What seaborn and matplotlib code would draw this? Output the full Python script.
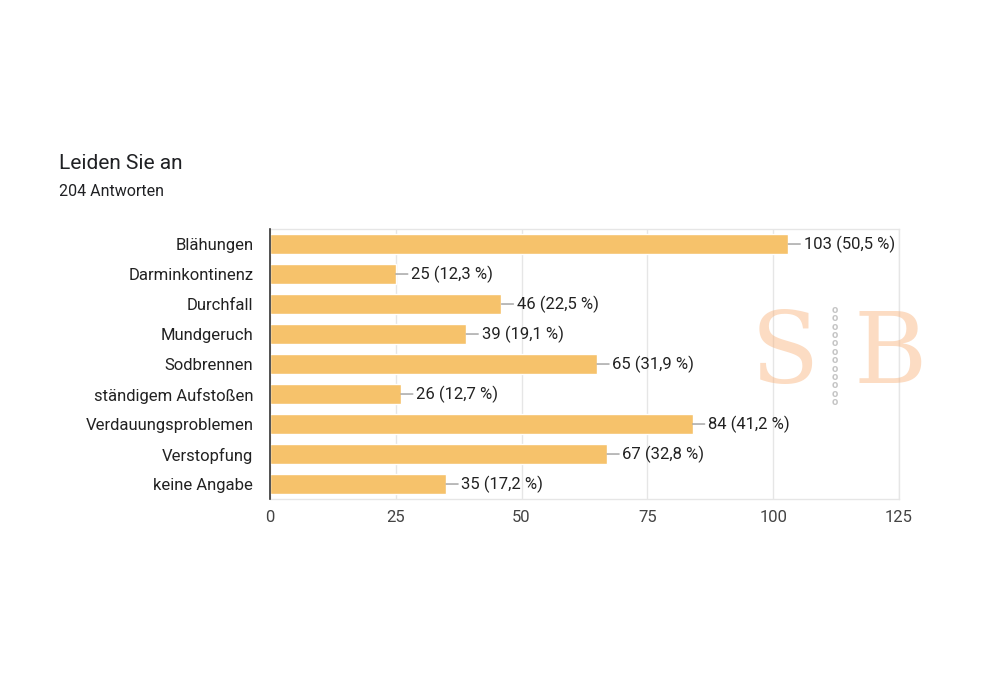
import matplotlib
matplotlib.use("Agg")
import matplotlib.pyplot as plt
import pandas as pd
import seaborn as sns

# Data
categories = ["Blähungen", "Darminkontinenz", "Durchfall", "Mundgeruch", "Sodbrennen",
              "ständigem Aufstoßen", "Verdauungsproblemen", "Verstopfung", "keine Angabe"]
counts = [103, 25, 46, 39, 65, 26, 84, 67, 35]
percents = ["50,5", "12,3", "22,5", "19,1", "31,9", "12,7", "41,2", "32,8", "17,2"]
x_ticks = [0, 25, 50, 75, 100, 125]
total = 204

df = pd.DataFrame({"Antwort": categories, "Anzahl": counts})

sns.set_theme(style="white")
plt.rcParams["font.family"] = ["Roboto", "DejaVu Sans"]

fig = plt.figure(figsize=(10.06, 6.82), dpi=100)
ax = fig.add_axes([0.2684, 0.2683, 0.6252, 0.3959])

sns.barplot(data=df, x="Anzahl", y="Antwort", color="#F6C26B", saturation=1,
            width=0.66, ax=ax, zorder=3)

ax.set_xlim(0, 125)
ax.set_xticks(x_ticks)
ax.set_xlabel("")
ax.set_ylabel("")
ax.grid(axis="x", color="#e6e6e6", lw=1, zorder=0)
ax.set_axisbelow(True)
for side in ["top", "right", "bottom"]:
    ax.spines[side].set_color("#e6e6e6")
    ax.spines[side].set_linewidth(1)
ax.spines["left"].set_color("#333333")
ax.spines["left"].set_linewidth(1.2)
ax.spines["left"].set_zorder(5)
ax.tick_params(axis="y", length=0, pad=12, labelsize=12, labelcolor="#222222")
ax.tick_params(axis="x", length=0, pad=8, labelsize=12, labelcolor="#444444")

# value labels with a short leader line
for i, (c, p) in enumerate(zip(counts, percents)):
    ax.annotate(f"{c} ({p} %)", xy=(c, i), xytext=(11, 0), textcoords="offset points",
                ha="left", va="center", fontsize=12, color="#222222",
                arrowprops=dict(arrowstyle="-", color="#9e9e9e", lw=1,
                                shrinkA=0, shrinkB=0))

# title and subtitle
fig.text(0.059, 0.760, "Leiden Sie an", fontsize=15, color="#202124", va="center")
fig.text(0.059, 0.719, f"{total} Antworten", fontsize=11.5, color="#202124", va="center")

# faint watermark
fig.text(0.780, 0.478, "S", fontsize=72, family="DejaVu Serif", color="#F9B27A",
         alpha=0.45, ha="center", va="center")
fig.text(0.885, 0.478, "B", fontsize=72, family="DejaVu Serif", color="#F9B27A",
         alpha=0.45, ha="center", va="center")
fig.text(0.830, 0.478, "\n".join(["o"] * 12), fontsize=8, color="#c4c4c4",
         ha="center", va="center", linespacing=0.8, fontweight="bold")

fig.savefig("out.png", dpi=100, facecolor="white")
